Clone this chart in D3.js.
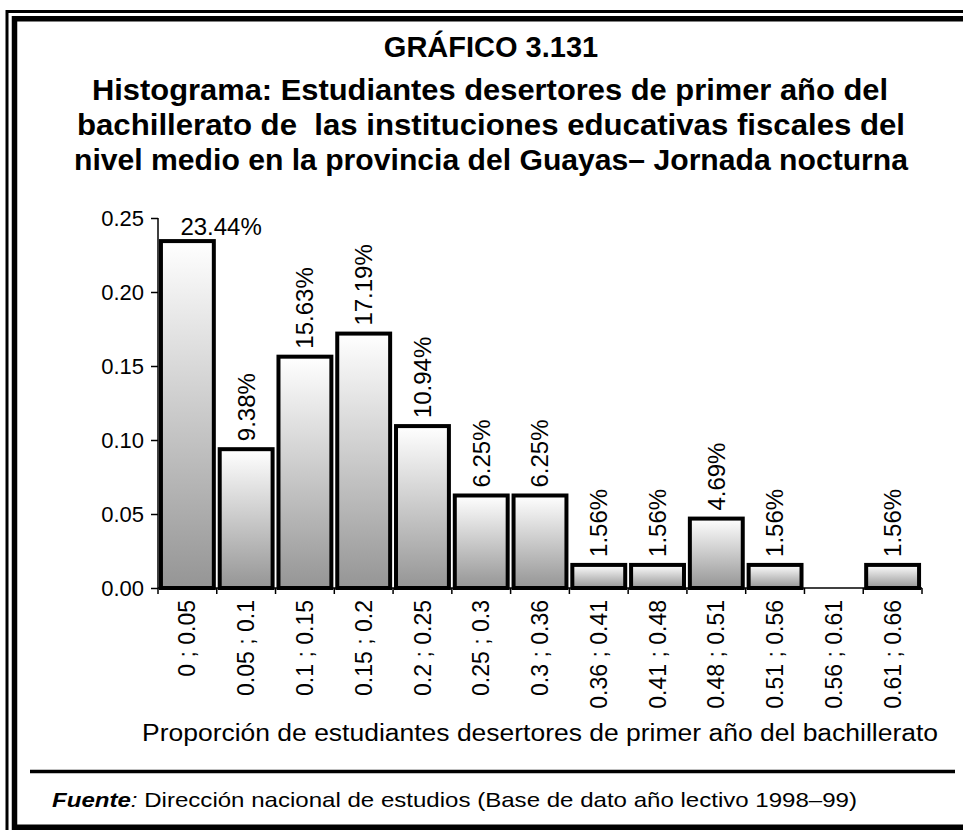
<!DOCTYPE html>
<html>
<head>
<meta charset="utf-8">
<script src="https://cdn.jsdelivr.net/npm/d3@7"></script>
<style>
  html, body { margin: 0; padding: 0; background: #fff; }
  svg { display: block; }
  text { font-family: "Liberation Sans", Arial, Helvetica, sans-serif; fill: #000; white-space: pre; }
</style>
</head>
<body>
<svg id="chart" width="963" height="830"></svg>
<script>
// ---- data ----
const titleLines = [
  "GRÁFICO 3.131",
  "Histograma: Estudiantes desertores de primer año del",
  "bachillerato de  las instituciones educativas fiscales del",
  "nivel medio en la provincia del Guayas– Jornada nocturna"
];
const categories = ["0 ; 0.05", "0.05 ; 0.1", "0.1 ; 0.15", "0.15 ; 0.2", "0.2 ; 0.25", "0.25 ; 0.3", "0.3 ; 0.36", "0.36 ; 0.41", "0.41 ; 0.48", "0.48 ; 0.51", "0.51 ; 0.56", "0.56 ; 0.61", "0.61 ; 0.66"];
const values = [0.2344, 0.0938, 0.1563, 0.1719, 0.1094, 0.0625, 0.0625, 0.0156, 0.0156, 0.0469, 0.0156, 0, 0.0156];
const valueLabels = ["23.44%", "9.38%", "15.63%", "17.19%", "10.94%", "6.25%", "6.25%", "1.56%", "1.56%", "4.69%", "1.56%", "", "1.56%"];
const yTicks = [0, 0.05, 0.10, 0.15, 0.20, 0.25];
const xAxisTitle = "Proporción de estudiantes desertores de primer año del bachillerato";
const sourceBold = "Fuente";
const sourceText = " Dirección nacional de estudios (Base de dato año lectivo 1998–99)";

// ---- setup ----
const svg = d3.select("#chart");

// gradient
const defs = svg.append("defs");
const grad = defs.append("linearGradient").attr("id", "barGrad")
  .attr("x1", 0).attr("y1", 0).attr("x2", 0).attr("y2", 1);
grad.append("stop").attr("offset", "0%").attr("stop-color", "#ffffff");
grad.append("stop").attr("offset", "100%").attr("stop-color", "#959595");

// frame
svg.append("rect").attr("x", 7).attr("y", 11.5).attr("width", 1000).attr("height", 900)
  .attr("fill", "none").attr("stroke", "#000").attr("stroke-width", 3);
svg.append("rect").attr("x", 14.5).attr("y", 18.75).attr("width", 1000).attr("height", 808.5)
  .attr("fill", "none").attr("stroke", "#000").attr("stroke-width", 5.5);

// title
const titleY = [57, 100, 135, 170];
const titleLen = [null, 796, 828, 834];
const titleX = [491, 490, 491, 491];
svg.append("g").selectAll("text").data(titleLines).join("text")
  .attr("x", (d, i) => titleX[i]).attr("y", (d, i) => titleY[i])
  .attr("text-anchor", "middle")
  .attr("font-size", 29).attr("font-weight", "bold")
  .each(function (d, i) {
    if (titleLen[i]) d3.select(this).attr("textLength", titleLen[i]).attr("lengthAdjust", "spacingAndGlyphs");
  })
  .text(d => d);

// scales
const x = d3.scaleBand().domain(categories).range([158, 922]).paddingInner(0.1).paddingOuter(0.05);
const y = d3.scaleLinear().domain([0, 0.25]).range([588, 218]);

// y axis
const yAxis = svg.append("g").attr("transform", "translate(158,0)")
  .call(d3.axisLeft(y).tickValues(yTicks).tickFormat(d3.format(".2f")).tickSize(7).tickPadding(7));
yAxis.select(".domain").attr("stroke-width", 1.5).attr("d", `M-0,${y(0.25)}V${y(0)}`);
yAxis.selectAll(".tick line").attr("stroke-width", 1.5);
yAxis.selectAll(".tick text").attr("font-size", 22).attr("font-family", "Liberation Sans, Arial, sans-serif");

// bars
const data = categories.map((c, i) => ({ c, v: values[i], l: valueLabels[i] }));
svg.append("g").selectAll("rect").data(data.filter(d => d.v > 0)).join("rect")
  .attr("x", d => x(d.c)).attr("width", x.bandwidth())
  .attr("y", d => y(d.v)).attr("height", d => y(0) - y(d.v))
  .attr("fill", "url(#barGrad)").attr("stroke", "#000").attr("stroke-width", 4);

// x axis line and boundary ticks
const step = x.step();
svg.append("line").attr("x1", 158).attr("x2", 922).attr("y1", y(0)).attr("y2", y(0))
  .attr("stroke", "#000").attr("stroke-width", 1.5);
const bounds = categories.map(c => x(c) - step * x.paddingInner() / 2);
bounds.push(922);
bounds[0] = 158;
svg.append("g").selectAll("line").data(bounds).join("line")
  .attr("x1", d => d).attr("x2", d => d).attr("y1", y(0)).attr("y2", y(0) + 6)
  .attr("stroke", "#000").attr("stroke-width", 1.5);

// x tick labels
svg.append("g").selectAll("text").data(categories).join("text")
  .attr("transform", d => `translate(${x(d) + x.bandwidth() / 2},600) rotate(-90)`)
  .attr("dy", "0.35em").attr("text-anchor", "end").attr("font-size", 23)
  .text(d => d);

// value labels
svg.append("g").selectAll("text").data(data.filter(d => d.l !== "")).join("text")
  .each(function (d) {
    const t = d3.select(this);
    const cx = x(d.c) + x.bandwidth() / 2;
    if (d.c === categories[0]) {
      t.attr("x", cx - 7).attr("y", y(d.v) - 6).attr("text-anchor", "start");
    } else {
      t.attr("transform", `translate(${cx},${y(d.v) - 8}) rotate(-90)`)
        .attr("dy", "0.35em").attr("text-anchor", "start");
    }
  })
  .attr("font-size", 24)
  .text(d => d.l);

// axis title
svg.append("text").attr("x", 540).attr("y", 741).attr("text-anchor", "middle")
  .attr("font-size", 23).attr("textLength", 796).attr("lengthAdjust", "spacingAndGlyphs")
  .text(xAxisTitle);

// separator
svg.append("line").attr("x1", 30).attr("x2", 955).attr("y1", 771.5).attr("y2", 771.5)
  .attr("stroke", "#000").attr("stroke-width", 3.5);

// source
const src = svg.append("text").attr("x", 52).attr("y", 807).attr("font-size", 21)
  .attr("textLength", 805).attr("lengthAdjust", "spacingAndGlyphs");
src.append("tspan").attr("font-weight", "bold").attr("font-style", "italic").text(sourceBold);
src.append("tspan").attr("font-style", "italic").text(":");
src.append("tspan").text(sourceText);
</script>
</body>
</html>
